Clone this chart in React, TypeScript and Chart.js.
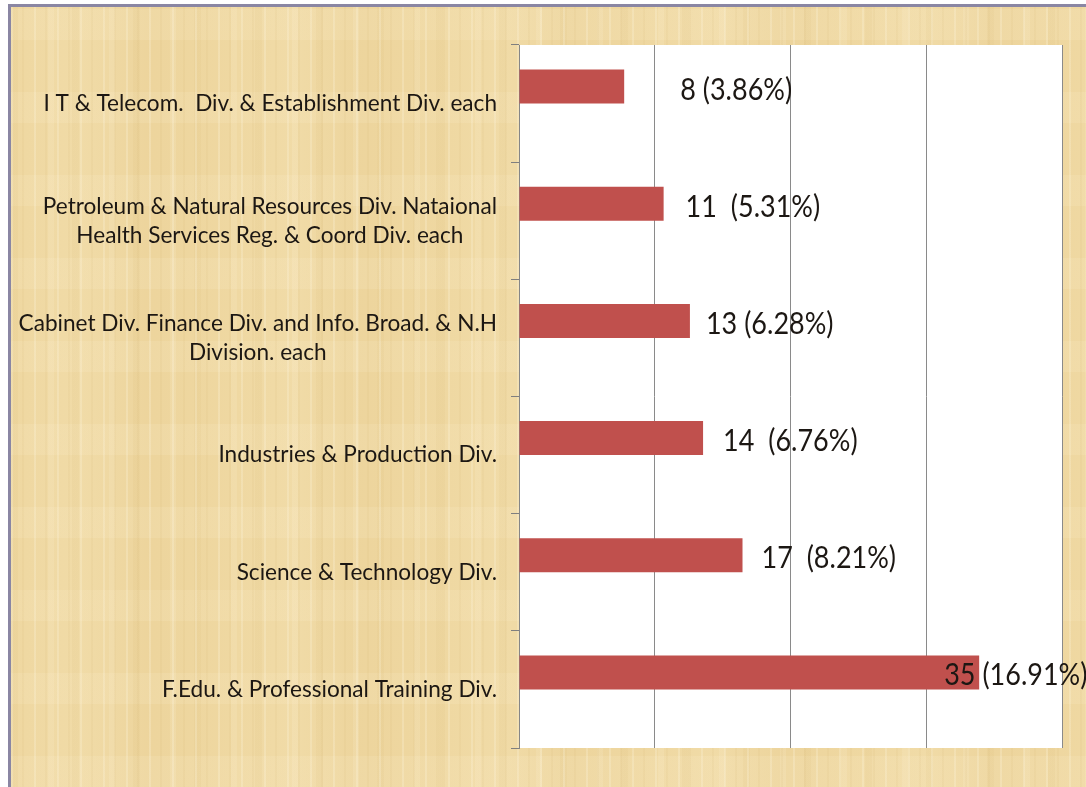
import React, { useEffect, useRef } from "react";
import { Chart, registerables } from "chart.js";

Chart.register(...registerables);

const categories: string[][] = [
  ["I T & Telecom.  Div. & Establishment Div. each"],
  ["Petroleum & Natural Resources Div. Nataional", "Health Services Reg. & Coord Div. each"],
  ["Cabinet Div. Finance Div. and Info. Broad. & N.H", "Division. each"],
  ["Industries & Production Div."],
  ["Science & Technology Div."],
  ["F.Edu. & Professional Training Div."],
];
const counts = [8, 11, 13, 14, 17, 35];
const percents = ["3.86%", "5.31%", "6.28%", "6.76%", "8.21%", "16.91%"];
const separators = [" ", "  ", " ", "  ", "  ", " "];
const emptySeries = [null, null, null, null, null, null];
const axisMax = 41.3;

// label placement relative to bar end (px) — styling only
const labelShift = [56, 22, 16, 20, 19, -35];

const BAR_COLOR = "#C0504D";
const TEXT_COLOR = "#1c1713";
const FONT = "Lato, 'Open Sans', sans-serif";

const plotBgPlugin = {
  id: "plotBg",
  beforeDraw(chart: any) {
    const { ctx, chartArea } = chart;
    ctx.save();
    ctx.fillStyle = "#ffffff";
    ctx.fillRect(chartArea.left, chartArea.top, chartArea.right - chartArea.left, chartArea.bottom - chartArea.top);
    ctx.restore();
  },
};

const categoryLabelPlugin = {
  id: "catLabels",
  afterDraw(chart: any) {
    const { ctx, chartArea } = chart;
    const yScale = chart.scales.y;
    ctx.save();
    ctx.font = `22.6px ${FONT}`;
    ctx.fillStyle = TEXT_COLOR;
    ctx.textAlign = "center";
    ctx.textBaseline = "middle";
    const right = chartArea.left - 22;
    const lh = 29;
    categories.forEach((lines, i) => {
      const cy = yScale.getPixelForValue(i);
      const blockW = Math.max(...lines.map((l) => ctx.measureText(l).width));
      const cx = right - blockW / 2;
      const y0 = cy - ((lines.length - 1) * lh) / 2;
      lines.forEach((l, k) => ctx.fillText(l, cx, y0 + k * lh));
    });
    ctx.restore();
  },
};

const valueLabelPlugin = {
  id: "valueLabels",
  afterDatasetsDraw(chart: any) {
    const { ctx } = chart;
    const meta = chart.getDatasetMeta(0);
    ctx.save();
    ctx.font = `27px ${FONT}`;
    ctx.fillStyle = TEXT_COLOR;
    ctx.textAlign = "left";
    ctx.textBaseline = "middle";
    meta.data.forEach((el: any, i: number) => {
      const text = `${counts[i]}${separators[i]}(${percents[i]})`;
      ctx.save();
      ctx.translate(el.x + labelShift[i], el.y + 3);
      ctx.scale(1, 1.15);
      ctx.fillText(text, 0, 0);
      ctx.restore();
    });
    ctx.restore();
  },
};

export default function App() {
  const ref = useRef<HTMLCanvasElement | null>(null);

  useEffect(() => {
    if (!ref.current) return;
    const chart = new Chart(ref.current, {
      type: "bar",
      data: {
        labels: categories.map((c) => c.join(" ")),
        datasets: [
          {
            data: counts,
            backgroundColor: BAR_COLOR,
            borderWidth: 0,
            categoryPercentage: 0.58,
            barPercentage: 1,
          },
          {
            data: emptySeries as any,
            backgroundColor: BAR_COLOR,
            borderWidth: 0,
            categoryPercentage: 0.58,
            barPercentage: 1,
          },
        ],
      },
      options: {
        indexAxis: "y",
        animation: false,
        responsive: false,
        maintainAspectRatio: false,
        layout: { padding: { top: 45, right: 24, bottom: 39, left: 0 } },
        plugins: {
          legend: { display: false },
          tooltip: { enabled: false },
          title: { display: false },
        },
        scales: {
          y: {
            type: "category",
            offset: true,
            grid: {
              display: true,
              drawOnChartArea: false,
              drawTicks: true,
              tickLength: 8,
              color: "#7f7f7f",
              offset: true,
            },
            border: { display: true, color: "#868686", width: 1 },
            ticks: { display: false },
            afterFit: (s: any) => {
              s.width = 519;
            },
          },
          x: {
            type: "linear",
            min: 0,
            max: axisMax,
            grid: { display: true, drawTicks: false, color: "#8a8a8a", lineWidth: 1 },
            border: { display: false },
            ticks: { display: false },
            afterBuildTicks: (s: any) => {
              s.ticks = [0, 1, 2, 3, 4].map((k) => ({ value: (k * s.max) / 4 }));
            },
          },
        },
      },
      plugins: [plotBgPlugin, categoryLabelPlugin, valueLabelPlugin],
    } as any);
    return () => chart.destroy();
  }, []);

  const parchment: React.CSSProperties = {
    position: "absolute",
    left: 8,
    top: 4,
    width: 1078,
    height: 783,
    boxSizing: "border-box",
    borderLeft: "3px solid #8a86a3",
    borderTop: "3px solid #8a86a3",
    backgroundColor: "#EFDAA6",
    backgroundImage: [
      "repeating-linear-gradient(90deg, rgba(255,250,232,0.22) 0px, rgba(255,250,232,0.22) 2px, transparent 2px, transparent 11px, rgba(196,160,88,0.07) 11px, rgba(196,160,88,0.07) 13px, transparent 13px, transparent 23px)",
      "repeating-linear-gradient(90deg, rgba(205,170,95,0.08) 0px, rgba(205,170,95,0.08) 7px, transparent 7px, transparent 37px, rgba(255,245,220,0.14) 37px, rgba(255,245,220,0.14) 43px, transparent 43px, transparent 61px)",
      "repeating-linear-gradient(0deg, rgba(255,246,220,0.12) 0px, rgba(255,246,220,0.12) 31px, transparent 31px, transparent 83px)",
      "repeating-linear-gradient(90deg, rgba(238,210,150,0.35) 0px, rgba(245,222,170,0.25) 71px, rgba(232,200,135,0.3) 137px, rgba(238,210,150,0.35) 211px)",
    ].join(", "),
  };

  return (
    <div style={{ position: "absolute", left: 0, top: 0, width: 1086, height: 787, overflow: "hidden", background: "#ffffff" }}>
      <div style={parchment} />
      <canvas ref={ref} width={1086} height={787} style={{ position: "absolute", left: 0, top: 0, width: 1086, height: 787 }} />
    </div>
  );
}
